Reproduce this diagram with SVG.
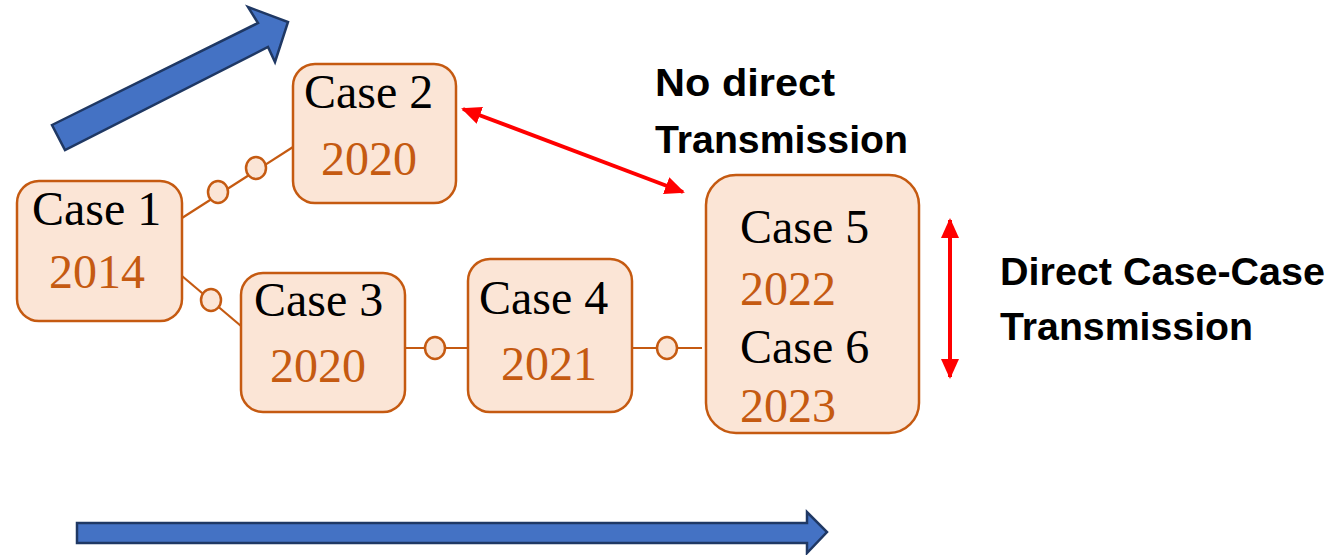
<svg xmlns="http://www.w3.org/2000/svg" width="1335" height="555" viewBox="0 0 1335 555">
  <style>
    .box { fill: #FBE5D6; stroke: #C55A11; stroke-width: 2.5; }
    .case { font-family: "Liberation Serif", "Times New Roman", serif; font-size: 48px; fill: #000; }
    .year { font-family: "Liberation Serif", "Times New Roman", serif; font-size: 48px; fill: #C55A11; }
    .link { stroke: #C55A11; stroke-width: 2.2; fill: none; }
    .knot { fill: #FBE5D6; stroke: #C55A11; stroke-width: 2.5; }
    .note { font-family: "Liberation Sans", Arial, sans-serif; font-weight: bold; font-size: 39px; fill: #000; }
    .red { stroke: #FF0000; stroke-width: 4; fill: none; }
    .big { fill: #4472C4; stroke: #1F3864; stroke-width: 2.5; stroke-linejoin: miter; }
  </style>
  <defs>
    <marker id="redHead" markerUnits="userSpaceOnUse" markerWidth="20" markerHeight="18" refX="18" refY="9" orient="auto-start-reverse">
      <path d="M0,0 L20,9 L0,18 Z" fill="#FF0000"/>
    </marker>
  </defs>

  <!-- timeline arrows -->
  <g id="arrow-diagonal">
    <polygon class="big" points="52,125 258,23 248,7 288,22 275,62 268,47 65,150"/>
  </g>
  <g id="arrow-horizontal">
    <polygon class="big" points="77,523 807,523 807,512 827,532 807,553 807,543 77,543"/>
  </g>

  <!-- connectors between cases -->
  <g id="connectors">
    <line class="link" x1="182" y1="218" x2="293" y2="147"/>
    <line class="link" x1="182" y1="276" x2="241" y2="326"/>
    <line class="link" x1="405" y1="348" x2="468" y2="348"/>
    <line class="link" x1="632" y1="348" x2="702" y2="348"/>
    <ellipse class="knot" cx="218" cy="192" rx="10" ry="11"/>
    <ellipse class="knot" cx="256" cy="168" rx="10" ry="11"/>
    <ellipse class="knot" cx="211" cy="300" rx="10" ry="11"/>
    <ellipse class="knot" cx="435" cy="348" rx="10" ry="11"/>
    <ellipse class="knot" cx="667" cy="348" rx="10" ry="11"/>
    <line class="red" x1="463" y1="109" x2="683" y2="192" marker-start="url(#redHead)" marker-end="url(#redHead)"/>
    <line class="red" x1="950" y1="220" x2="950" y2="377" marker-start="url(#redHead)" marker-end="url(#redHead)"/>
  </g>

  <!-- case nodes -->
  <g id="case1">
    <rect class="box" x="17" y="181" width="165" height="140" rx="22"/>
    <text class="case" x="32" y="225">Case 1</text>
    <text class="year" x="49" y="288">2014</text>
  </g>
  <g id="case2">
    <rect class="box" x="293" y="64" width="163" height="139" rx="22"/>
    <text class="case" x="304" y="108">Case 2</text>
    <text class="year" x="321" y="175">2020</text>
  </g>
  <g id="case3">
    <rect class="box" x="241" y="273" width="164" height="139" rx="22"/>
    <text class="case" x="254" y="316">Case 3</text>
    <text class="year" x="270" y="382">2020</text>
  </g>
  <g id="case4">
    <rect class="box" x="468" y="259" width="164" height="153" rx="22"/>
    <text class="case" x="479" y="314">Case 4</text>
    <text class="year" x="501" y="380">2021</text>
  </g>
  <g id="case5-6">
    <rect class="box" x="706" y="175" width="213" height="258" rx="30"/>
    <text class="case" x="740" y="243">Case 5</text>
    <text class="year" x="740" y="305">2022</text>
    <text class="case" x="740" y="363">Case 6</text>
    <text class="year" x="740" y="422">2023</text>
  </g>

  <!-- annotations -->
  <g id="label-no-direct">
    <text class="note" x="655" y="96" textLength="180" lengthAdjust="spacingAndGlyphs">No direct</text>
    <text class="note" x="655" y="153" textLength="253" lengthAdjust="spacingAndGlyphs">Transmission</text>
  </g>
  <g id="label-direct">
    <text class="note" x="1000" y="285" textLength="325" lengthAdjust="spacingAndGlyphs">Direct Case-Case</text>
    <text class="note" x="1000" y="340" textLength="253" lengthAdjust="spacingAndGlyphs">Transmission</text>
  </g>
</svg>
